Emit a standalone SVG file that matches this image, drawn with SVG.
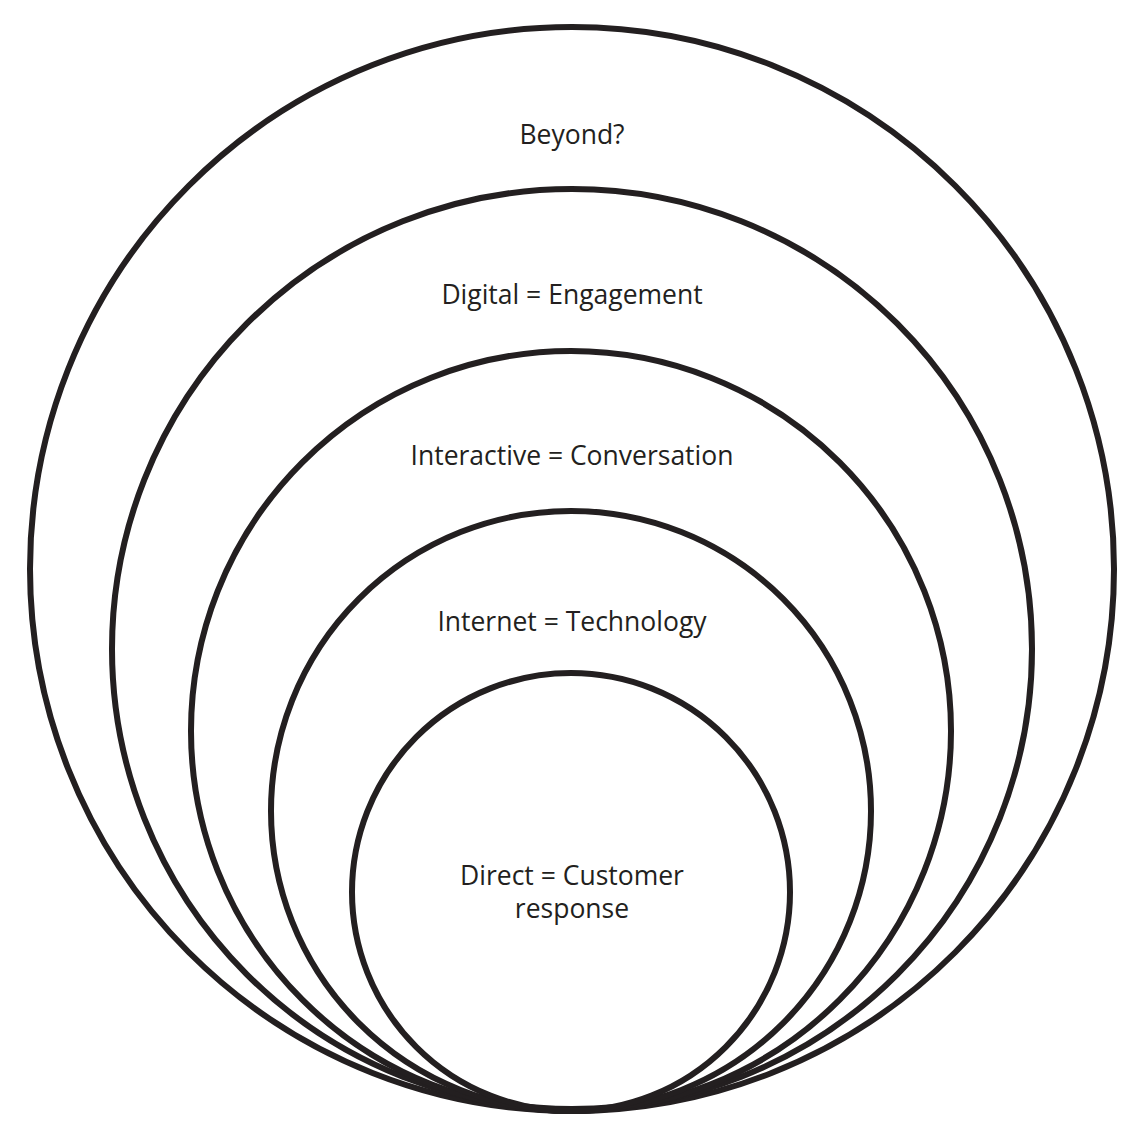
<svg xmlns="http://www.w3.org/2000/svg" width="1148" height="1136" viewBox="0 0 1148 1136">
<style>
.ring{fill:none;stroke:#231f20;stroke-width:6}
.lbl{font-family:"Open Sans",Lato,sans-serif;font-size:26.5px;fill:#231f20;text-anchor:middle}
</style>
<rect width="1148" height="1136" fill="#fff"/>
<g id="beyond"><circle class="ring" cx="572" cy="569" r="542"/><text class="lbl" x="572" y="144">Beyond?</text></g>
<g id="digital"><circle class="ring" cx="572" cy="649" r="460"/><text class="lbl" x="572" y="304">Digital = Engagement</text></g>
<g id="interactive"><circle class="ring" cx="571" cy="731" r="380"/><text class="lbl" x="572" y="465">Interactive = Conversation</text></g>
<g id="internet"><circle class="ring" cx="571" cy="811" r="300"/><text class="lbl" x="572" y="631">Internet = Technology</text></g>
<g id="direct"><circle class="ring" cx="571" cy="892" r="219"/><text class="lbl" x="572" y="885"><tspan x="572" y="885">Direct = Customer</tspan><tspan x="572" y="918">response</tspan></text></g>
<g id="connectors"/>
</svg>
